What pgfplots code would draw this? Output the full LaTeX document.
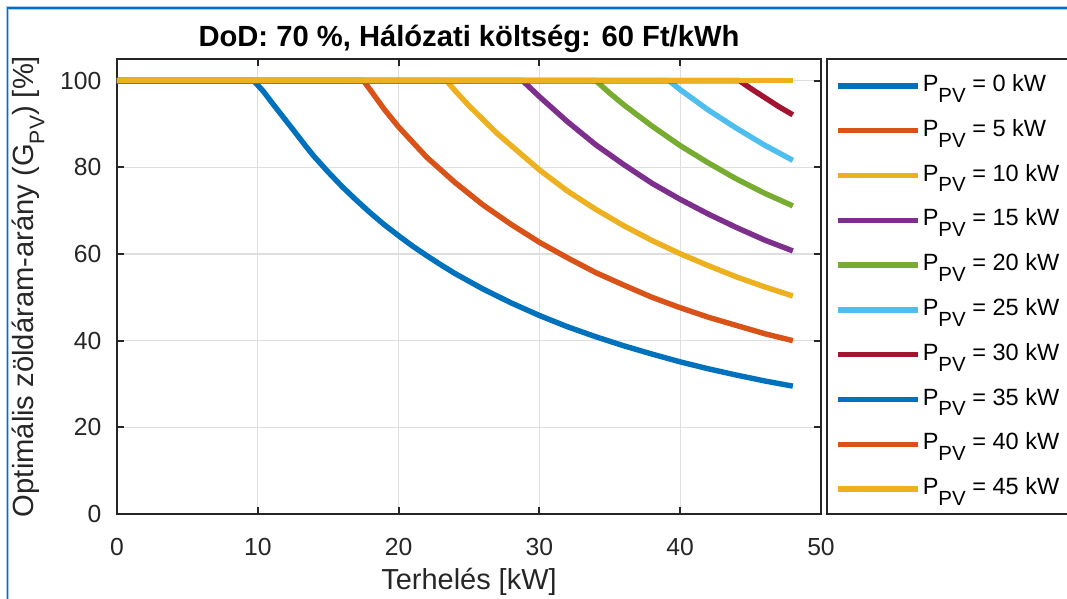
\documentclass[border=0pt]{standalone}
\usepackage{pgfplots}
\pgfplotsset{compat=1.18}
\usepackage{fontspec}
\setmainfont{Liberation Sans}
\definecolor{c1}{RGB}{0,114,189}
\definecolor{c2}{RGB}{217,83,25}
\definecolor{c3}{RGB}{237,177,32}
\definecolor{c4}{RGB}{126,47,142}
\definecolor{c5}{RGB}{119,172,48}
\definecolor{c6}{RGB}{77,190,238}
\definecolor{c7}{RGB}{162,20,47}
\definecolor{axc}{RGB}{38,38,38}
\newcommand{\sub}[1]{\raisebox{-4.8pt}{\fontsize{9}{10}\selectfont #1}}
\newcommand{\lsub}[1]{\raisebox{-4.6pt}{\fontsize{8.7}{10}\selectfont #1}}
\begin{document}
\begin{tikzpicture}
\begin{axis}[
  scale only axis, width=299.2pt, height=193.4pt,
  at={(0pt,0pt)}, anchor=south west,
  xmin=0, xmax=50, ymin=0, ymax=105,
  xtick={0,10,...,50}, ytick={0,20,...,100},
  xtick pos=both, ytick pos=both, xticklabel pos=left, yticklabel pos=left,
  tick align=inside, major tick length=3pt,
  tick style={color=axc, line width=0.8pt},
  axis line style={color=axc, line width=0.8pt},
  grid=major, major grid style={color=black!13, line width=0.5pt},
  /pgf/number format/assume math mode=true,
  tick label style={font=\fontsize{10.5}{12}\selectfont, color=axc},
  xticklabel style={anchor=base, inner sep=0pt, yshift=-17.85pt},
  yticklabel style={anchor=east, inner sep=0pt, xshift=-6.4pt},
  every axis x label/.style={at={(axis description cs:0.5,-0.165)}, anchor=base, font=\fontsize{12.3}{14}\selectfont, color=axc},
  every axis y label/.style={at={(axis description cs:-0.1193,0.5)}, rotate=90, anchor=base, font=\fontsize{12.4}{14}\selectfont, color=axc},
  xlabel={Terhelés [kW]},
  ylabel={Optimális zöldáram-arány (G\sub{PV}) [\%]},
  title={DoD: 70 \%, Hálózati költség: 60 Ft/kWh},
  every axis title shift=0pt,
  title style={at={(axis description cs:0.5,1.0264)}, anchor=base, font=\bfseries\fontsize{12.4}{14}\selectfont, inner sep=0pt},
  legend cell align=left,
  legend image code/.code={\draw[#1] (0pt,1.4pt) -- (34pt,1.4pt);},
  legend style={at={(1.0199,0.9645)}, anchor=north west, draw=none, fill=none,
    inner sep=0pt, outer sep=0pt, row sep=7.04pt, column sep=1pt,
    nodes={inner sep=0pt, text height=7pt, text depth=5pt, anchor=west},
    font=\fontsize{10}{12}\selectfont, text=black},
  every axis plot/.append style={line width=2.3pt, line join=round},
]
\addplot[c1] coordinates {(0,100)(9.7,100)(10.4,97.5)(11.1,94.5)(11.8,91.6)(12.5,88.7)(13.45,84.7)(14,82.5)(15,78.9)(16,75.5)(17,72.4)(18,69.45)(19,66.7)(20,64.2)(21,61.8)(22,59.6)(23,57.5)(24,55.5)(25,53.7)(26,51.9)(28,48.7)(30,45.8)(32,43.2)(34,40.9)(36,38.8)(38,36.9)(40,35.1)(42,33.5)(44,32.05)(46,30.7)(48,29.5)};
\addlegendentry{P\lsub{PV} = 0 kW}
\addplot[c2] coordinates {(0,100)(17.5,100)(18,97.8)(19,93.3)(20,89.3)(22,82.3)(24,76.5)(26,71.3)(28,66.8)(30,62.7)(32,59.1)(34,55.7)(36,52.8)(38,50.0)(40,47.6)(42,45.4)(44,43.5)(46,41.6)(48,40)};
\addlegendentry{P\lsub{PV} = 5 kW}
\addplot[c3] coordinates {(0,100)(23.4,100)(24,97.7)(25,94.2)(27,87.8)(28,85.0)(30,79.4)(32,74.5)(34,70.3)(36,66.5)(38,63.1)(40,60.05)(42,57.3)(44,54.7)(46,52.4)(48,50.3)};
\addlegendentry{P\lsub{PV} = 10 kW}
\addplot[c4] coordinates {(0,100)(28.8,100)(30,96.3)(32,90.5)(34,85.2)(36,80.6)(38,76.3)(40,72.6)(42,69.2)(44,66.1)(46,63.2)(48,60.7)};
\addlegendentry{P\lsub{PV} = 15 kW}
\addplot[c5] coordinates {(0,100)(34,100)(35,97.1)(36,94.4)(38,89.5)(40,85)(42,81)(44,77.3)(46,74)(48,71.1)};
\addlegendentry{P\lsub{PV} = 20 kW}
\addplot[c6] coordinates {(0,100)(39.2,100)(40,97.9)(42,93.2)(44,89)(46,85.1)(48,81.6)};
\addlegendentry{P\lsub{PV} = 25 kW}
\addplot[c7] coordinates {(0,100)(44.2,100)(45,98.2)(46,96.1)(47,94.0)(48,92.1)};
\addlegendentry{P\lsub{PV} = 30 kW}
\addplot[c1] coordinates {(0,100)(48,100)};
\addlegendentry{P\lsub{PV} = 35 kW}
\addplot[c2] coordinates {(0,100)(48,100)};
\addlegendentry{P\lsub{PV} = 40 kW}
\addplot[c3] coordinates {(0,100)(48,100)};
\addlegendentry{P\lsub{PV} = 45 kW}
\end{axis}
\draw[axc, line width=0.8pt] (301.75pt,0pt) rectangle (420pt,193.4pt);
\draw[color={rgb,255:red,170;green,205;blue,240}, line width=1.4pt] (-46.5pt,-40pt) -- (-46.5pt,215.05pt) -- (410pt,215.05pt);
\draw[color={rgb,255:red,0;green,110;blue,200}, line width=0.6pt] (-46.5pt,-40pt) -- (-46.5pt,215.05pt) -- (410pt,215.05pt);
\pgfresetboundingbox
\path[use as bounding box] (-49.725pt,-36.125pt) rectangle (403.75pt,218.45pt);
\end{tikzpicture}
\end{document}
